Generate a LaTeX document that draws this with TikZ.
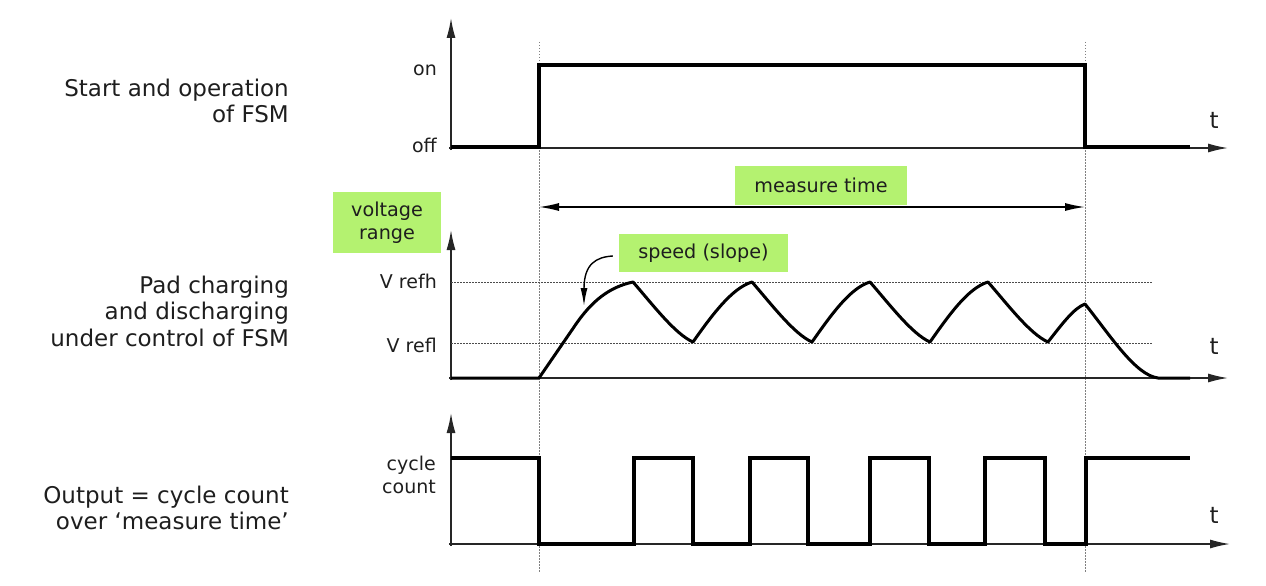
\documentclass[tikz,border=0pt]{standalone}
\usepackage{fontspec}
\setmainfont{DejaVu Sans}
\usetikzlibrary{arrows.meta}
\definecolor{boxgreen}{RGB}{180,242,112}
\definecolor{txt}{RGB}{30,30,30}
\begin{document}
\begin{tikzpicture}[x=1pt,y=-1pt,
  axis/.style={line width=1.5pt,black!85,-{Latex[length=20pt,width=9pt]}},
  signal/.style={line width=3.2pt,black,line join=miter},
  wave/.style={line width=3pt,black,line join=round},
  vguide/.style={gray,line width=1pt,dash pattern=on 1.5pt off 1.5pt},
  hguide/.style={black!70,line width=1pt,dash pattern=on 1.5pt off 1.5pt},
  biglabel/.style={font=\fontsize{23}{26.5}\selectfont,text=txt,align=right,inner sep=0pt},
  smalllabel/.style={font=\fontsize{19}{23}\selectfont,text=txt,align=right,inner sep=0pt},
  tlabel/.style={font=\fontsize{23}{26}\selectfont,text=txt,inner sep=0pt},
  greenbox/.style={fill=boxgreen,font=\fontsize{19.2}{23}\selectfont,text=txt,align=center,inner sep=0pt},
  timearrow/.style={line width=1.4pt,black,{Latex[length=20pt,width=8pt]}-{Latex[length=20pt,width=8pt]}},
  slopearrow/.style={line width=1.4pt,black,-{Latex[length=18pt,width=7pt]}}
]
\useasboundingbox (0,0) rectangle (1266,586);

% ---- vertical dotted guides
\draw[vguide] (539,42) coordinate (gA1) -- (539,572) coordinate (gA2);
\draw[vguide] (1085,42) coordinate (gB1) -- (1085,572) coordinate (gB2);

% ================= top panel
\coordinate (y1b) at (451,150);
\coordinate (y1t) at (451,18);
\coordinate (x1l) at (449,148);
\coordinate (x1r) at (1228,148);
\draw[axis] (y1b) -- (y1t);
\draw[axis] (x1l) -- (x1r);
\node[tlabel] (t1) at (1214,120) {t};
\node[smalllabel,anchor=east] (on) at (437,70) {on};
\node[smalllabel,anchor=east] (off) at (437,145) {off};
\draw[signal] (451,147) -- (539,147) -- (539,65) -- (1085,65) -- (1085,147) -- (1190,147);
\node[biglabel,anchor=east] (lab1) at (289,101) {Start and operation\\of FSM};

% measure time
\node[greenbox,minimum width=172pt,minimum height=39pt] (mt) at (821,185) {measure time};
\coordinate (mL) at (539,207);
\coordinate (mR) at (1085,207);
\draw[timearrow] (mL) -- (mR);

% ================= middle panel
\coordinate (y2b) at (451,380);
\coordinate (y2t) at (451,230);
\coordinate (x2l) at (449,378);
\coordinate (x2r) at (1228,378);
\draw[axis] (y2b) -- (y2t);
\draw[axis] (x2l) -- (x2r);
\node[tlabel] (t2) at (1214,346) {t};
\draw[hguide] (451,282) -- (1153,282);
\draw[hguide] (451,343) -- (1153,343);
\node[smalllabel,anchor=east] (vh) at (437,281) {V refh};
\node[smalllabel,anchor=east] (vl) at (437,345) {V refl};
\node[greenbox,minimum width=108pt,minimum height=61pt] (vr) at (387,222.5) {voltage\\range};
\node[greenbox,minimum width=169pt,minimum height=38pt] (speed) at (703.5,253) {speed (slope)};
\coordinate (sp) at (584,306);
\draw[slopearrow] ([xshift=-6pt,yshift=-3pt]speed.west) .. controls (596,257) and (584,264) .. (sp);

\draw[wave] (451,378) -- (539,378) -- (574,327)
  .. controls (592,300) and (610,287) .. (633,282)
  .. controls (653,305) and (675,334) .. (693,342)
  .. controls (712,315) and (732,288) .. (752,282)
  .. controls (772,305) and (794,334) .. (812,342)
  .. controls (831,315) and (850,288) .. (870,282)
  .. controls (890,305) and (912,334) .. (930,342)
  .. controls (949,315) and (968,288) .. (988,282)
  .. controls (1008,305) and (1030,334) .. (1048,342)
  .. controls (1062,324) and (1074,308) .. (1085,304)
  .. controls (1110,335) and (1135,375) .. (1158,378)
  -- (1190,378);
\node[biglabel,anchor=east] (lab2) at (289,311) {Pad charging\\and discharging\\under control of FSM};

% ================= bottom panel
\coordinate (y3b) at (451,546);
\coordinate (y3t) at (451,413);
\coordinate (x3l) at (449,544);
\coordinate (x3r) at (1230,544);
\draw[axis] (y3b) -- (y3t);
\draw[axis] (x3l) -- (x3r);
\node[tlabel] (t3) at (1214,515) {t};
\node[smalllabel,anchor=east] (cc) at (436,475) {cycle\\count};
\draw[signal] (451,458) -- (539,458) -- (539,544) -- (634,544) -- (634,458) -- (693,458)
  -- (693,544) -- (750,544) -- (750,458) -- (808,458) -- (808,544) -- (870,544)
  -- (870,458) -- (929,458) -- (929,544) -- (985,544) -- (985,458) -- (1045,458)
  -- (1045,544) -- (1086,544) -- (1086,458) -- (1190,458);
\node[biglabel,anchor=east] (lab3) at (289,508) {Output = cycle count\\over ‘measure time’};
\end{tikzpicture}
\end{document}
